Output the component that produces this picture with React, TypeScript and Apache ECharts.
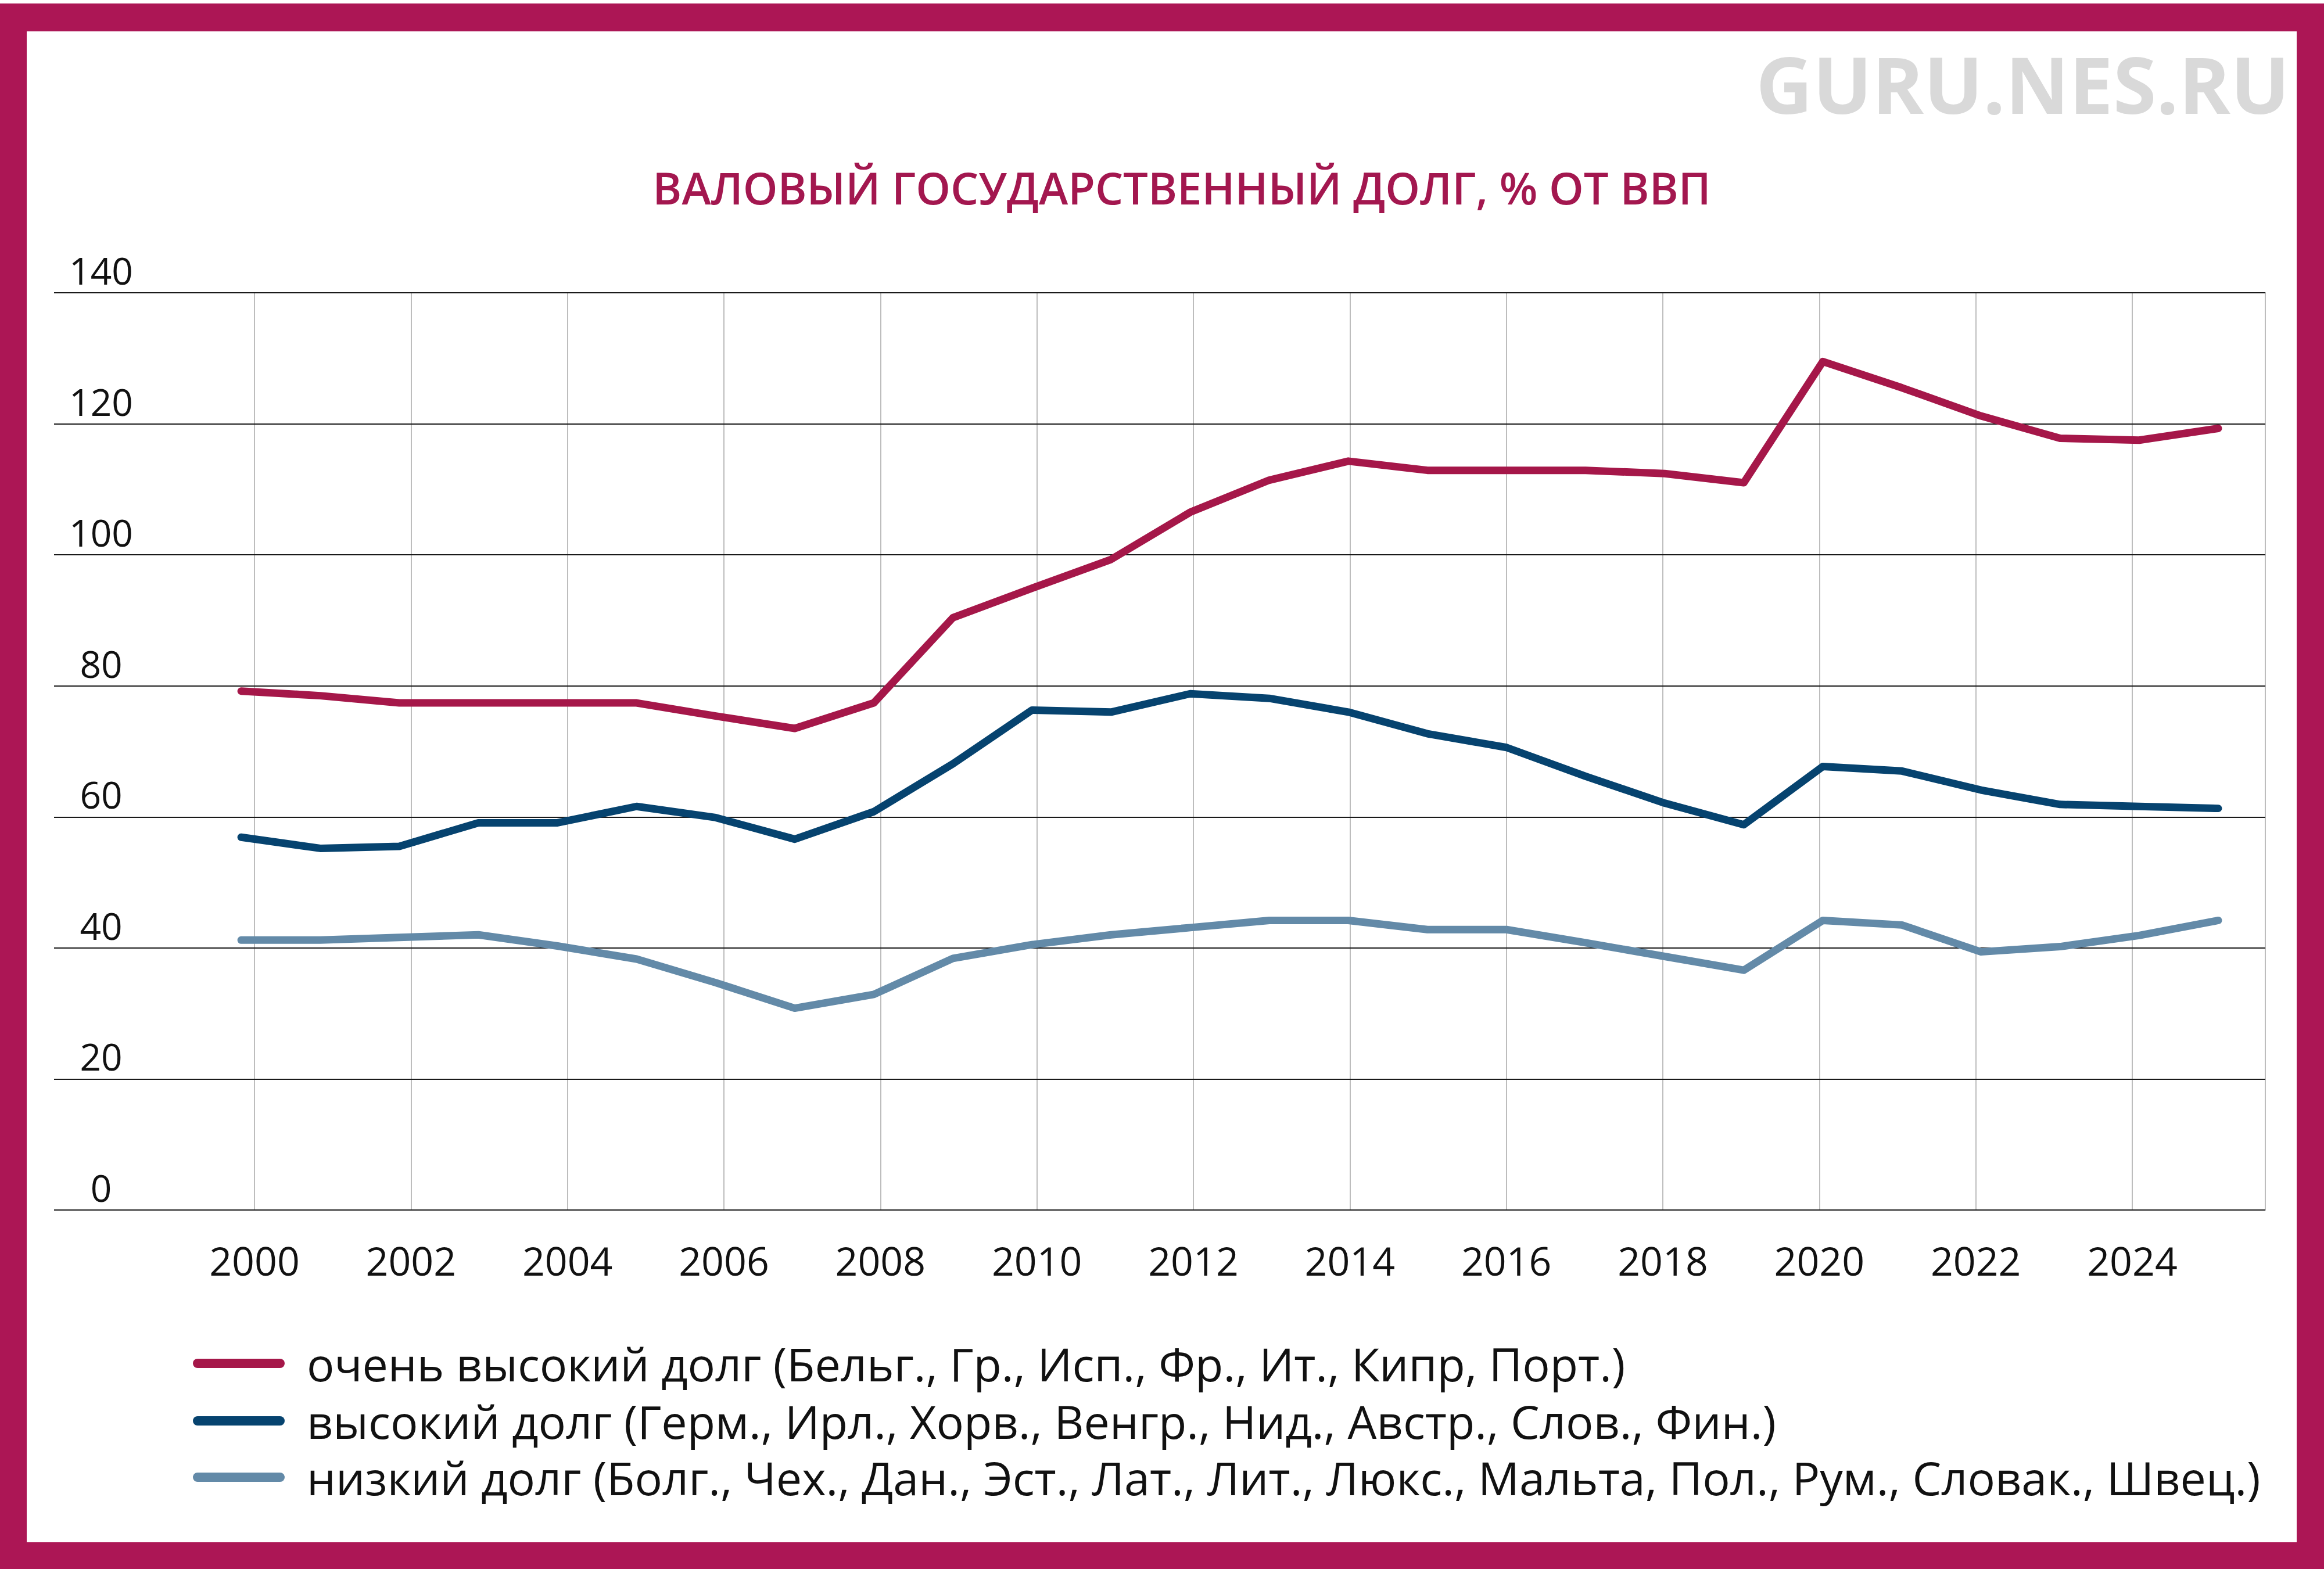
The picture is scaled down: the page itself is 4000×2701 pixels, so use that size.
import React, { useEffect, useRef } from "react";
import * as echarts from "echarts";

const years = [
  2000, 2001, 2002, 2003, 2004, 2005, 2006, 2007, 2008, 2009, 2010, 2011, 2012,
  2013, 2014, 2015, 2016, 2017, 2018, 2019, 2020, 2021, 2022, 2023, 2024, 2025,
];
const veryHighDebt = [
  79.2, 78.5, 77.4, 77.4, 77.4, 77.4, 75.4, 73.5, 77.4, 90.4, 94.9, 99.3, 106.5,
  111.4, 114.3, 112.9, 112.9, 112.9, 112.4, 111.0, 129.5, 125.5, 121.2, 117.8, 117.5, 119.3,
];
const highDebt = [
  56.9, 55.2, 55.5, 59.1, 59.1, 61.6, 59.9, 56.6, 60.8, 68.1, 76.3, 76.0, 78.8,
  78.1, 76.0, 72.7, 70.6, 66.2, 62.1, 58.8, 67.7, 67.0, 64.1, 61.9, 61.6, 61.3,
];
const lowDebt = [
  41.2, 41.2, 41.6, 42.0, 40.3, 38.3, 34.7, 30.8, 32.9, 38.4, 40.5, 42.0, 43.1,
  44.2, 44.2, 42.8, 42.8, 40.8, 38.7, 36.6, 44.2, 43.5, 39.4, 40.2, 41.9, 44.2,
];
const seriesNames = [
  "очень высокий долг (Бельг., Гр., Исп., Фр., Ит., Кипр, Порт.)",
  "высокий долг (Герм., Ирл., Хорв., Венгр., Нид., Австр., Слов., Фин.)",
  "низкий долг (Болг., Чех., Дан., Эст., Лат., Лит., Люкс., Мальта, Пол., Рум., Словак., Швец.)",
];
const seriesColors = ["#A51749", "#06436F", "#638AA8"];
const titleText = "ВАЛОВЫЙ ГОСУДАРСТВЕННЫЙ ДОЛГ, % ОТ ВВП";
const watermarkText = "GURU.NES.RU";

const FONT = "'Open Sans', 'Noto Sans', sans-serif";
const FRAME = "#AC1655";
const CAPSULE = "path://M8 0H150A8 8 0 0 1 150 16H8A8 8 0 0 1 8 0Z";

export default function App() {
  const ref = useRef<HTMLDivElement>(null);

  useEffect(() => {
    if (!ref.current) return;
    const chart = echarts.init(ref.current, null, { renderer: "svg" });
    const datasets = [veryHighDebt, highDebt, lowDebt];

    const legendTops = [2347, 2446, 2543];

    const option: any = {
      animation: false,
      backgroundColor: "#ffffff",
      textStyle: { fontFamily: FONT },
      graphic: [
        { type: "rect", shape: { x: 0, y: 6, width: 4000, height: 48 }, style: { fill: FRAME }, silent: true },
        { type: "rect", shape: { x: 0, y: 2655, width: 4000, height: 46 }, style: { fill: FRAME }, silent: true },
        { type: "rect", shape: { x: 0, y: 6, width: 46, height: 2695 }, style: { fill: FRAME }, silent: true },
        { type: "rect", shape: { x: 3953, y: 6, width: 47, height: 2695 }, style: { fill: FRAME }, silent: true },
        {
          type: "text",
          x: 3941,
          y: 144,
          style: {
            text: watermarkText,
            align: "right",
            verticalAlign: "middle",
            fill: "#D9D9D9",
            font: `bold 135px ${FONT}`,
          },
          silent: true,
        },
        {
          type: "text",
          x: 2034,
          y: 322,
          style: {
            text: titleText,
            align: "center",
            verticalAlign: "middle",
            fill: "#A3174F",
            font: `600 76px ${FONT}`,
          },
          silent: true,
        },
      ],
      legend: seriesNames.map((name, i) => ({
        data: [{ name, icon: CAPSULE }],
        left: 332,
        top: legendTops[i] - 40,
        orient: "vertical",
        padding: 0,
        itemWidth: 158,
        itemHeight: 16,
        itemStyle: { borderWidth: 0 },
        selectedMode: false,
        textStyle: {
          fontFamily: FONT,
          fontSize: 79,
          lineHeight: 80,
          color: "#111111",
          padding: [0, 0, 0, 33],
        },
      })),
      grid: [
        { left: 93, right: 101, top: 504, bottom: 618, containLabel: false },
        { left: 438, right: 330, top: 504, bottom: 618, containLabel: false },
      ],
      xAxis: [
        {
          type: "value",
          gridIndex: 0,
          min: 1997.634,
          max: 2025.595,
          show: false,
        },
        {
          type: "value",
          gridIndex: 1,
          min: 2000,
          max: 2024,
          interval: 2,
          axisLine: { show: false },
          axisTick: { show: false },
          splitLine: { show: true, lineStyle: { color: "#BDBDBD", width: 2 } },
          axisLabel: {
            formatter: (v: number) => String(v),
            fontFamily: FONT,
            fontSize: 68,
            color: "#111111",
            margin: 52,
          },
        },
      ],
      yAxis: [
        {
          type: "value",
          gridIndex: 0,
          min: 0,
          max: 140,
          interval: 20,
          axisLine: { show: false },
          axisTick: { show: false },
          splitLine: { show: true, lineStyle: { color: "#1A1A1A", width: 2 } },
          axisLabel: {
            inside: true,
            align: "center",
            verticalAlign: "bottom",
            lineHeight: 77,
            margin: 81,
            fontFamily: FONT,
            fontSize: 64,
            color: "#111111",
            formatter: (v: number) => String(v),
          },
          z: 3,
        },
        {
          type: "value",
          gridIndex: 0,
          position: "right",
          min: 0,
          max: 140,
          axisLine: { show: true, lineStyle: { color: "#BDBDBD", width: 2 } },
          axisTick: { show: false },
          axisLabel: { show: false },
          splitLine: { show: false },
        },
        {
          type: "value",
          gridIndex: 1,
          min: 0,
          max: 140,
          show: false,
          splitLine: { show: false },
        },
      ],
      series: datasets.map((vals, i) => ({
        type: "line",
        name: seriesNames[i],
        xAxisIndex: 0,
        yAxisIndex: 0,
        data: years.map((y, j) => [y, vals[j]]),
        symbol: "none",
        color: seriesColors[i],
        lineStyle: { width: 13, color: seriesColors[i], cap: "round", join: "round" },
        itemStyle: { color: seriesColors[i] },
        z: 5,
      })),
    };

    chart.setOption(option);
    return () => chart.dispose();
  }, []);

  return (
    <div
      ref={ref}
      style={{ position: "fixed", left: 0, top: 0, width: 4000, height: 2701, background: "#fff" }}
    />
  );
}
